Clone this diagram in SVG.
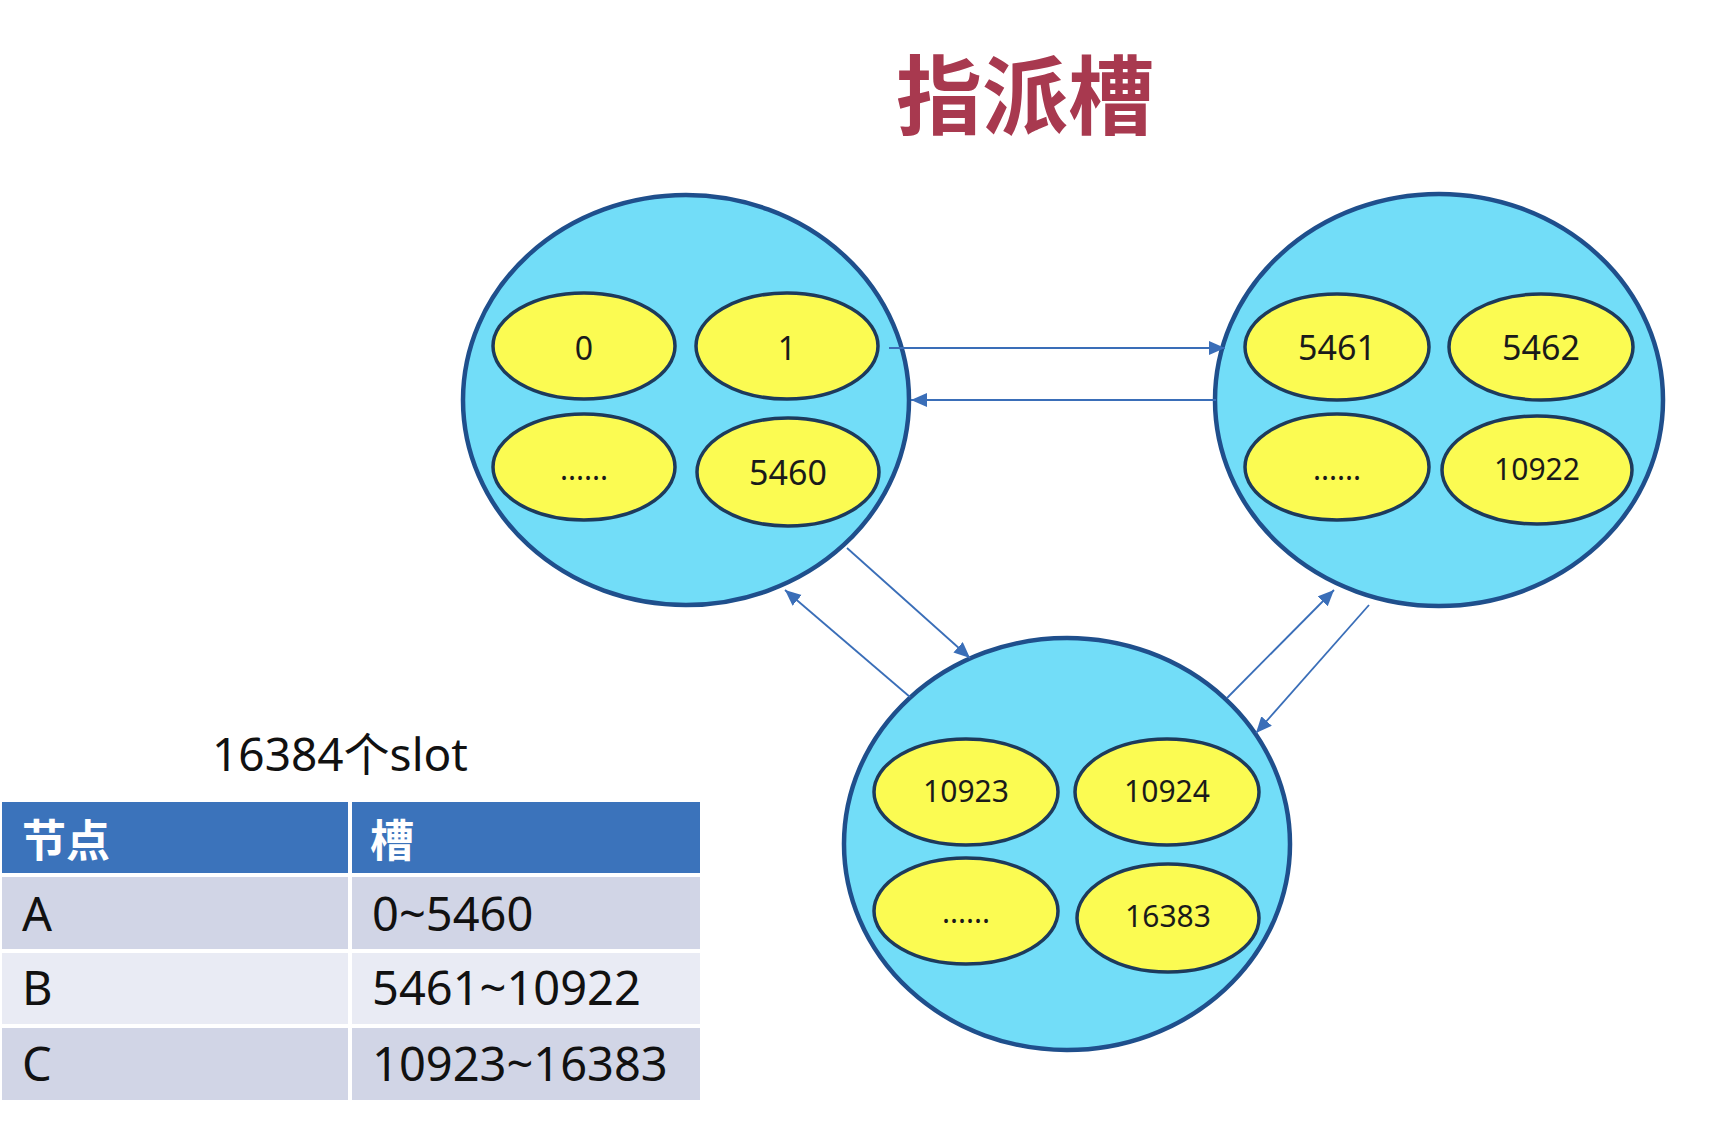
<svg xmlns="http://www.w3.org/2000/svg" width="1726" height="1122" viewBox="0 0 1726 1122">
<style>
.node{fill:#72ddf8;stroke:#1f4f8c;stroke-width:4.5}
.slot{fill:#fbfb52;stroke:#1d3a5c;stroke-width:3.5}
.st{font-family:"Noto Sans","Open Sans","Noto Sans CJK SC",sans-serif;fill:#1a1a1a;text-anchor:middle}
.conn{stroke:#3a6eb8;stroke-width:1.8;fill:none;marker-end:url(#ah)}
.tt{font-family:"Noto Sans","Open Sans","Noto Sans CJK SC",sans-serif;fill:#111;font-size:47px}
.th{font-family:"Noto Sans CJK SC",sans-serif;fill:#fff;font-size:44px;font-weight:700}
</style>
<defs>
<marker id="ah" markerUnits="userSpaceOnUse" markerWidth="18" markerHeight="16" refX="16" refY="7" orient="auto">
<path d="M0,0 L16,7 L0,14 z" fill="#3a6eb8"/>
</marker>
</defs>
<rect width="1726" height="1122" fill="#fff"/>
<text id="title" x="1025" y="128" font-family="Noto Sans CJK SC,sans-serif" font-size="86" font-weight="700" fill="#a8394f" text-anchor="middle">指派槽</text>

<g id="nodeA">
<ellipse class="node" cx="686" cy="400" rx="223" ry="205"/>
<ellipse class="slot" cx="584" cy="346" rx="91" ry="53"/>
<ellipse class="slot" cx="787" cy="346" rx="91" ry="53"/>
<ellipse class="slot" cx="584" cy="467" rx="91" ry="53"/>
<ellipse class="slot" cx="788" cy="472" rx="91" ry="54"/>
<text class="st" x="584" y="360" font-size="32">0</text>
<text class="st" x="787" y="360" font-size="32">1</text>
<text class="st" x="584" y="480" font-size="30">......</text>
<text class="st" x="788" y="485" font-size="34">5460</text>
</g>

<g id="nodeB">
<ellipse class="node" cx="1439" cy="400" rx="224" ry="206"/>
<ellipse class="slot" cx="1337" cy="347" rx="92" ry="53"/>
<ellipse class="slot" cx="1541" cy="347" rx="92" ry="53"/>
<ellipse class="slot" cx="1337" cy="467" rx="92" ry="53"/>
<ellipse class="slot" cx="1537" cy="470" rx="95" ry="54"/>
<text class="st" x="1337" y="360" font-size="34">5461</text>
<text class="st" x="1541" y="360" font-size="34">5462</text>
<text class="st" x="1337" y="480" font-size="30">......</text>
<text class="st" x="1537" y="480" font-size="30">10922</text>
</g>

<g id="nodeC">
<ellipse class="node" cx="1067" cy="844" rx="223" ry="206"/>
<ellipse class="slot" cx="966" cy="792" rx="92" ry="53"/>
<ellipse class="slot" cx="1167" cy="792" rx="92" ry="53"/>
<ellipse class="slot" cx="966" cy="911" rx="92" ry="53"/>
<ellipse class="slot" cx="1168" cy="918" rx="91" ry="54"/>
<text class="st" x="966" y="802" font-size="30">10923</text>
<text class="st" x="1167" y="802" font-size="30">10924</text>
<text class="st" x="966" y="923" font-size="30">......</text>
<text class="st" x="1168" y="927" font-size="30">16383</text>
</g>

<g id="connectors">
<line class="conn" x1="889" y1="348" x2="1225" y2="348"/>
<line class="conn" x1="1216" y1="400" x2="911" y2="400"/>
<line class="conn" x1="847" y1="548" x2="970" y2="658"/>
<line class="conn" x1="910" y1="697" x2="785" y2="590"/>
<line class="conn" x1="1227" y1="698" x2="1334" y2="590"/>
<line class="conn" x1="1369" y1="605" x2="1256" y2="733"/>
</g>

<g id="slotTable">
<text x="340" y="771" font-family="Noto Sans,Open Sans,Noto Sans CJK SC,sans-serif" font-size="46" fill="#111" text-anchor="middle">16384个slot</text>
<rect x="2" y="802" width="346" height="71" fill="#3b73bb"/>
<rect x="352" y="802" width="348" height="71" fill="#3b73bb"/>
<rect x="2" y="877" width="346" height="72" fill="#d1d5e6"/>
<rect x="352" y="877" width="348" height="72" fill="#d1d5e6"/>
<rect x="2" y="953" width="346" height="71" fill="#e9ebf4"/>
<rect x="352" y="953" width="348" height="71" fill="#e9ebf4"/>
<rect x="2" y="1028" width="346" height="72" fill="#d1d5e6"/>
<rect x="352" y="1028" width="348" height="72" fill="#d1d5e6"/>
<text class="th" x="22" y="857">节点</text>
<text class="th" x="370" y="857">槽</text>
<text class="tt" x="22" y="931">A</text>
<text class="tt" x="372" y="931">0~5460</text>
<text class="tt" x="22" y="1005">B</text>
<text class="tt" x="372" y="1005">5461~10922</text>
<text class="tt" x="22" y="1081">C</text>
<text class="tt" x="372" y="1081">10923~16383</text>
</g>
</svg>
